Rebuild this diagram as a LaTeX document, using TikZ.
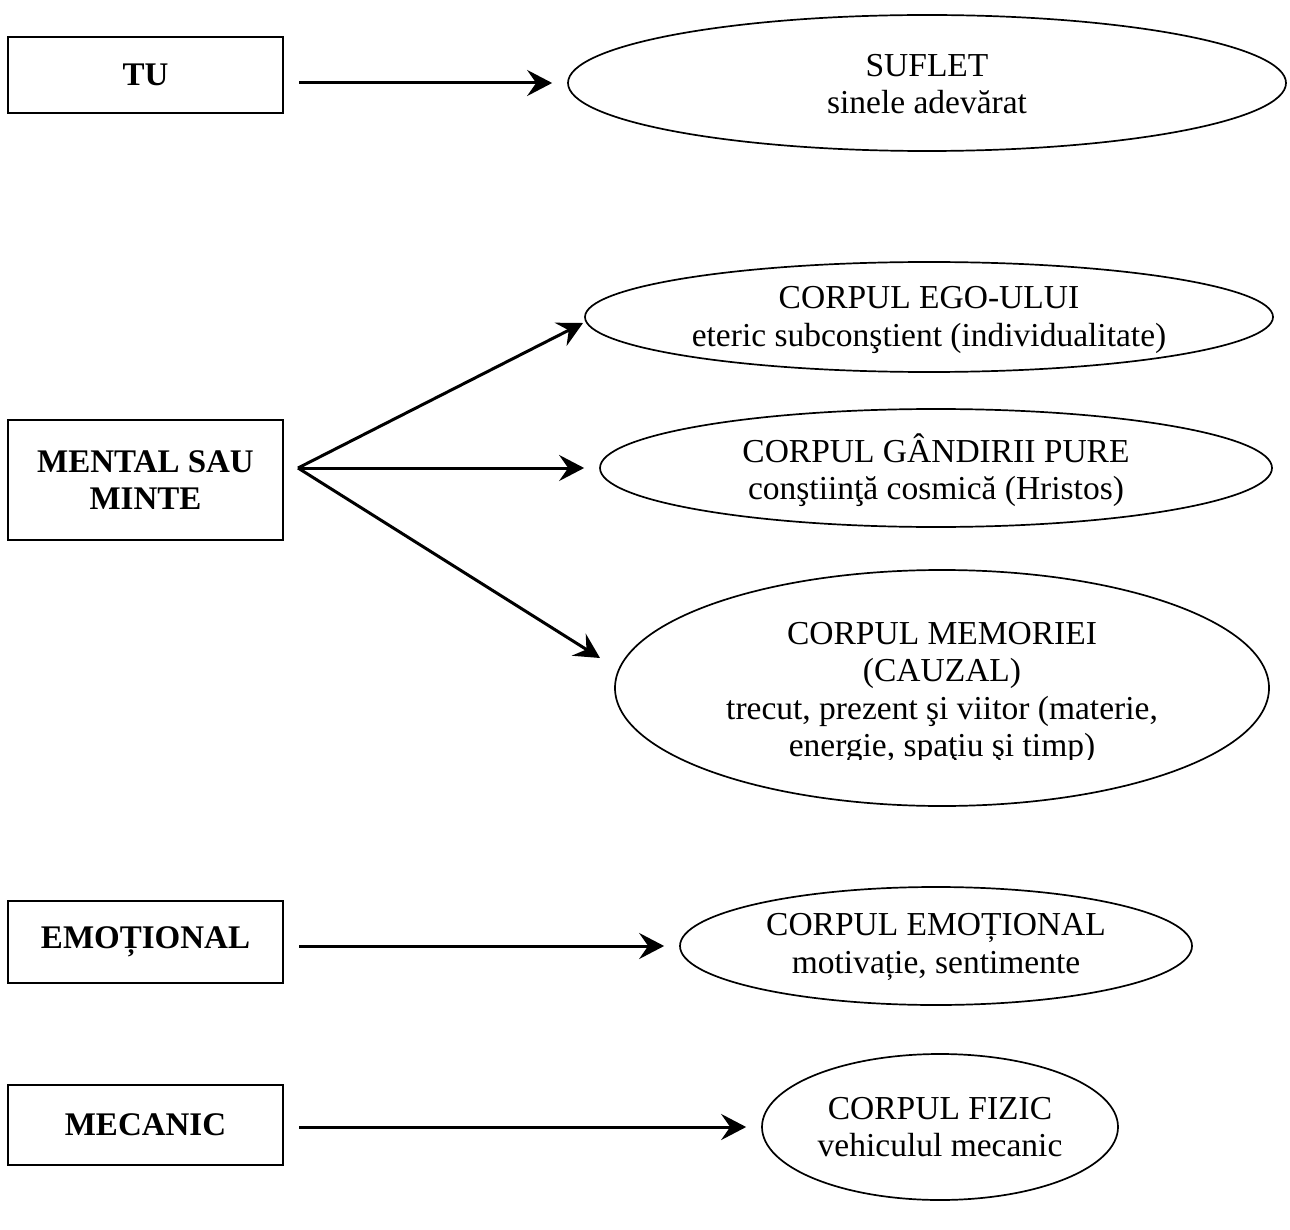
\documentclass[tikz,border=0pt]{standalone}
\usepackage{fontspec}
\setmainfont{Liberation Serif}
\usetikzlibrary{arrows.meta,shapes.geometric}
\begin{document}
\begin{tikzpicture}[x=1pt,y=-1pt,
  box/.style={draw, line width=2.5pt, minimum width=275pt, inner sep=0pt, align=center,
    font=\fontsize{33}{37.5}\selectfont\bfseries},
  ell/.style={draw, ellipse, line width=1.7pt, inner sep=0pt},
  lbl/.style={align=center, inner sep=0pt, font=\fontsize{33.5}{37.5}\selectfont},
  arr/.style={line width=3pt, -{Stealth[length=25pt,width=26pt,inset=9pt]}}]
\useasboundingbox (0,0) rectangle (1290,1230);

% left boxes
\node[box, minimum height=76pt]  (tu)  at (145.5,75)   {TU};
\node[box, minimum height=120pt] (men) at (145.5,480)  {MENTAL SAU\\MINTE};
\node[box, minimum height=82pt]  (emo) at (145.5,942)  {EMOȚIONAL};
\node[box, minimum height=80pt]  (mec) at (145.5,1125) {MECANIC};

% ellipses
\node[ell, minimum width=718pt, minimum height=136pt] (suf)  at (927,83)   {};
\node[lbl] (sufl) at ([yshift=-1pt]suf.center) {SUFLET\\sinele adevărat};
\node[ell, minimum width=688pt, minimum height=110pt] (ego)  at (929,317)  {};
\node[lbl] (egol) at ([yshift=-3pt]ego.center) {CORPUL EGO-ULUI\\eteric subconştient (individualitate)};
\node[ell, minimum width=672pt, minimum height=118pt] (gan)  at (936,468)  {};
\node[lbl] (ganl) at ([yshift=-2pt]gan.center) {CORPUL GÂNDIRII PURE\\conştiinţă cosmică (Hristos)};
\node[ell, minimum width=654pt, minimum height=236pt] (mem)  at (942,688)  {};
\begin{scope}
  \clip (620,600) rectangle (1265,759.5);
  \node[lbl] (meml) at (942,693) {CORPUL MEMORIEI\\(CAUZAL)\\trecut, prezent şi viitor (materie,\\energie, spaţiu şi timp)};
\end{scope}
\node[ell, minimum width=512pt, minimum height=118pt] (emc)  at (936,946)  {};
\node[lbl] (emcl) at ([yshift=-1pt]emc.center) {CORPUL EMOȚIONAL\\motivație, sentimente};
\node[ell, minimum width=356pt, minimum height=146pt] (fiz)  at (940,1127) {};
\node[lbl] (fizl) at (fiz) {CORPUL FIZIC\\vehiculul mecanic};

% connectors
\coordinate (m0) at (298,468);
\coordinate (t1) at (583,323);
\coordinate (t3) at (600,658);
\draw[arr, shorten <=15pt, shorten >=15pt] (tu.east |- suf.west) -- (suf.west);
\draw[arr] (m0) -- (t1);
\draw[arr, shorten >=15pt] (m0) -- (m0 -| gan.west);
\draw[arr] (m0) -- (t3);
\draw[arr, shorten <=15pt, shorten >=15pt] (emo.east |- emc.west) -- (emc.west);
\draw[arr, shorten <=15pt, shorten >=15pt] (mec.east |- fiz.west) -- (fiz.west);
\end{tikzpicture}
\end{document}
